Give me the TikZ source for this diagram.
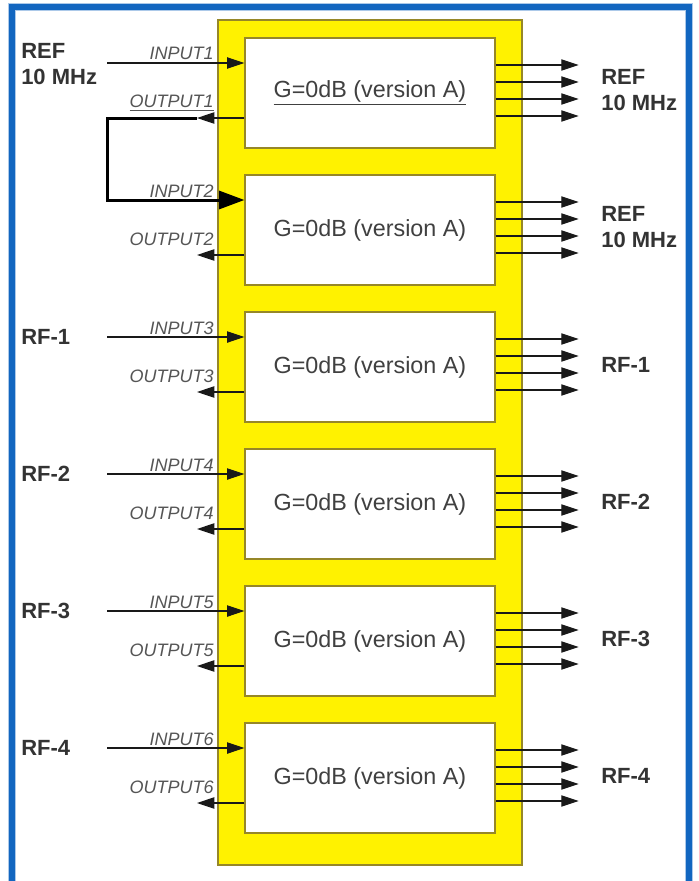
\documentclass[tikz,border=0pt]{standalone}
\usepackage{fontspec}
\setmainfont{Liberation Sans}
\usetikzlibrary{arrows.meta}

\definecolor{rackyellow}{RGB}{255,242,0}
\definecolor{rackedge}{RGB}{150,135,40}
\definecolor{frameblue}{RGB}{18,102,192}
\definecolor{portgray}{RGB}{85,85,85}

\begin{document}
\begin{tikzpicture}[
  x=0.75pt, y=-0.75pt,
  module/.style={
    draw=rackedge,
    fill=white,
    line width=0.9pt,
    minimum width=187.5pt,
    minimum height=82.5pt,
    inner sep=0pt,
    text=black!75,
    font=\fontsize{17.5}{20}\selectfont
  },
  port/.style={
    inner sep=0pt,
    anchor=base east,
    text=portgray,
    font=\fontsize{13.5}{15}\selectfont\itshape
  },
  signal/.style={
    inner sep=0pt,
    anchor=west,
    align=left,
    text=black!80,
    font=\fontsize{16.5}{20}\selectfont\bfseries
  },
  edge/.style={
    -{Triangle[length=13pt,width=8.5pt]},
    line width=0.8pt,
    draw=black!90
  },
  feed/.style={
    -{Triangle[length=19pt,width=13.5pt]},
    line width=2.25pt
  }
]

\path[use as bounding box] (0,0) rectangle (699,881);

\draw[frameblue!35, line width=6pt] (12,881) -- (12,7) -- (689,7) -- (689,881);
\draw[frameblue, line width=4pt] (12,881) -- (12,7) -- (689,7) -- (689,881);

\draw[fill=rackyellow, draw=rackedge, line width=0.9pt] (218,20) rectangle (522,865);

\node[module] (b1) at (370,93) {\underline{G=0dB (version A)}};
\node[module] (b2) at (370,230) {G=0dB (version A)};
\node[module] (b3) at (370,367) {G=0dB (version A)};
\node[module] (b4) at (370,504) {G=0dB (version A)};
\node[module] (b5) at (370,641) {G=0dB (version A)};
\node[module] (b6) at (370,778) {G=0dB (version A)};

\coordinate (i1) at (107,63);
\coordinate (i2) at (107,200);
\coordinate (i3) at (107,337);
\coordinate (i4) at (107,474);
\coordinate (i5) at (107,611);
\coordinate (i6) at (107,748);

\coordinate (o1) at (197,118);
\coordinate (o2) at (197,255);
\coordinate (o3) at (197,392);
\coordinate (o4) at (197,529);
\coordinate (o5) at (197,666);
\coordinate (o6) at (197,803);
\coordinate (bend) at (107,118);

% inputs
\draw[edge] (i1) -- (i1 -| b1.west);
\draw[edge] (i3) -- (i3 -| b3.west);
\draw[edge] (i4) -- (i4 -| b4.west);
\draw[edge] (i5) -- (i5 -| b5.west);
\draw[edge] (i6) -- (i6 -| b6.west);

% outputs
\draw[edge] (o1 -| b1.west) -- (o1);
\draw[edge] (o2 -| b2.west) -- (o2);
\draw[edge] (o3 -| b3.west) -- (o3);
\draw[edge] (o4 -| b4.west) -- (o4);
\draw[edge] (o5 -| b5.west) -- (o5);
\draw[edge] (o6 -| b6.west) -- (o6);

% loop-through from output 1 to input 2
\draw[feed] (o1) -- (bend) -- (i2) -- (i2 -| b2.west);

% distributed outputs
\draw[edge] ([yshift=21pt]b1.east) -- ++(83,0);
\draw[edge] ([yshift=8.25pt]b1.east) -- ++(83,0);
\draw[edge] ([yshift=-4.5pt]b1.east) -- ++(83,0);
\draw[edge] ([yshift=-17.25pt]b1.east) -- ++(83,0);

\draw[edge] ([yshift=21pt]b2.east) -- ++(83,0);
\draw[edge] ([yshift=8.25pt]b2.east) -- ++(83,0);
\draw[edge] ([yshift=-4.5pt]b2.east) -- ++(83,0);
\draw[edge] ([yshift=-17.25pt]b2.east) -- ++(83,0);

\draw[edge] ([yshift=21pt]b3.east) -- ++(83,0);
\draw[edge] ([yshift=8.25pt]b3.east) -- ++(83,0);
\draw[edge] ([yshift=-4.5pt]b3.east) -- ++(83,0);
\draw[edge] ([yshift=-17.25pt]b3.east) -- ++(83,0);

\draw[edge] ([yshift=21pt]b4.east) -- ++(83,0);
\draw[edge] ([yshift=8.25pt]b4.east) -- ++(83,0);
\draw[edge] ([yshift=-4.5pt]b4.east) -- ++(83,0);
\draw[edge] ([yshift=-17.25pt]b4.east) -- ++(83,0);

\draw[edge] ([yshift=21pt]b5.east) -- ++(83,0);
\draw[edge] ([yshift=8.25pt]b5.east) -- ++(83,0);
\draw[edge] ([yshift=-4.5pt]b5.east) -- ++(83,0);
\draw[edge] ([yshift=-17.25pt]b5.east) -- ++(83,0);

\draw[edge] ([yshift=21pt]b6.east) -- ++(83,0);
\draw[edge] ([yshift=8.25pt]b6.east) -- ++(83,0);
\draw[edge] ([yshift=-4.5pt]b6.east) -- ++(83,0);
\draw[edge] ([yshift=-17.25pt]b6.east) -- ++(83,0);

% port names
\node[port] (pi1) at (214,60) {INPUT1};
\node[port] (pi2) at (214,197) {INPUT2};
\node[port] (pi3) at (214,334) {INPUT3};
\node[port] (pi4) at (214,471) {INPUT4};
\node[port] (pi5) at (214,608) {INPUT5};
\node[port] (pi6) at (214,745) {INPUT6};

\node[port] (po1) at (214,108) {\underline{OUTPUT1}};
\node[port] (po2) at (214,245) {OUTPUT2};
\node[port] (po3) at (214,382) {OUTPUT3};
\node[port] (po4) at (214,519) {OUTPUT4};
\node[port] (po5) at (214,656) {OUTPUT5};
\node[port] (po6) at (214,793) {OUTPUT6};

% signal names
\node[signal] (sin1) at (21,64) {REF\\10 MHz};
\node[signal] (sin3) at (21,337) {RF-1};
\node[signal] (sin4) at (21,474) {RF-2};
\node[signal] (sin5) at (21,611) {RF-3};
\node[signal] (sin6) at (21,748) {RF-4};

\node[signal] (sout1) at (601,90) {REF\\10 MHz};
\node[signal] (sout2) at (601,227) {REF\\10 MHz};
\node[signal] (sout3) at (601,365) {RF-1};
\node[signal] (sout4) at (601,502) {RF-2};
\node[signal] (sout5) at (601,639) {RF-3};
\node[signal] (sout6) at (601,776) {RF-4};

\end{tikzpicture}
\end{document}
